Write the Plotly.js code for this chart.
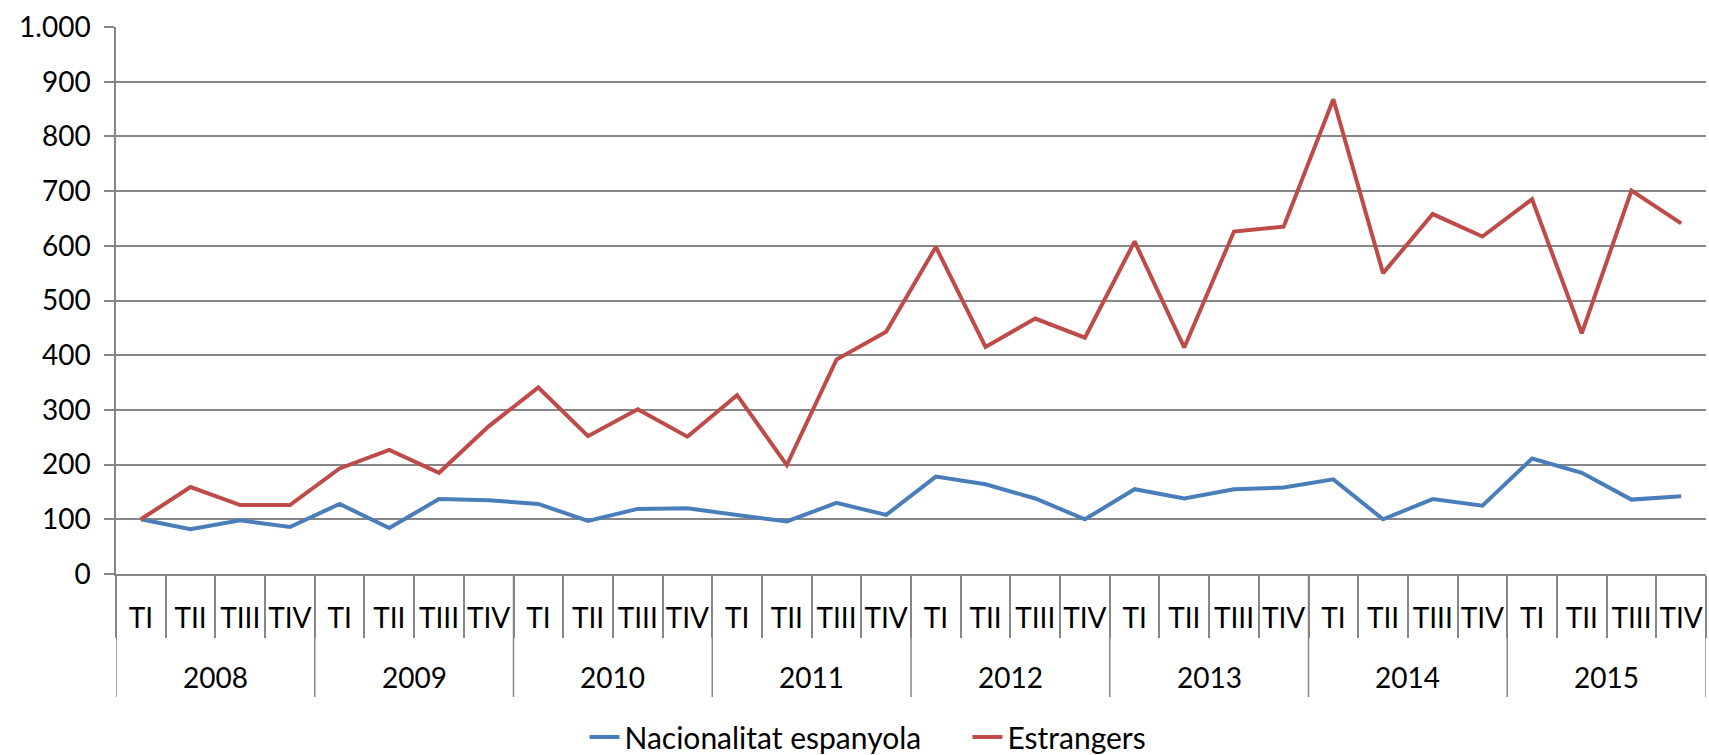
<!DOCTYPE html>
<html>
<head>
<meta charset="utf-8">
<script src="https://cdn.plot.ly/plotly-3.0.1.min.js"></script>
<style>html,body{margin:0;padding:0;background:#fff;}#chart{width:1709px;height:755px;}</style>
</head>
<body>
<div id="chart"></div>
<script>
const years = ['2008','2009','2010','2011','2012','2013','2014','2015'];
const quarters = ['TI','TII','TIII','TIV'];
const nacionalitatEspanyola = [100,82,98,86, 128,84,137,135, 128,97,119,120, 108,96,130,108, 178,164,138,100, 155,138,155,158, 173,100,137,125, 211,185,136,142];
const estrangers = [100,159,126,126, 193,227,185,270, 341,252,301,251, 327,199,392,443, 598,415,467,432, 608,414,626,635, 868,550,658,617, 685,440,701,641];
const seriesNames = ['Nacionalitat espanyola','Estrangers'];

// category positions built from the categories
const nQ = quarters.length;
const xIndex = [], xQuarterText = [];
years.forEach((y, i) => quarters.forEach((q, j) => { xIndex.push(i * nQ + j); xQuarterText.push(q); }));
const boundaries = [];
for (let k = 0; k <= xIndex.length; k++) boundaries.push(k - 0.5);

const family = 'Lato, "Open Sans", sans-serif';
const axisFont = {family: family, size: 28, color: '#000'};
const legendFont = {family: family, size: 30, color: '#000'};
const gray = '#868686';

const plotH = 755 - 27 - 181;

const traces = [
  {x: xIndex, y: nacionalitatEspanyola, name: seriesNames[0], type: 'scatter', mode: 'lines',
   line: {color: '#4A7EBB', width: 4}},
  {x: xIndex, y: estrangers, name: seriesNames[1], type: 'scatter', mode: 'lines',
   line: {color: '#BE4B48', width: 4}}
];

const yearAnnotations = years.map((y, i) => ({
  text: y, x: i * nQ + (nQ - 1) / 2, xref: 'x', y: -103 / plotH, yref: 'paper',
  xanchor: 'center', yanchor: 'middle', showarrow: false, font: axisFont
}));
const yearDividers = years.concat(['end']).map((y, i) => ({
  type: 'line', xref: 'x', yref: 'paper', x0: i * nQ - 0.5, x1: i * nQ - 0.5,
  y0: 0, y1: -123 / plotH, line: {color: gray, width: 1.5}
}));

const layout = {
  width: 1709, height: 755,
  margin: {l: 116, r: 3, t: 27, b: 181},
  paper_bgcolor: '#fff', plot_bgcolor: '#fff',
  separators: ',.',
  font: axisFont,
  showlegend: true,
  legend: {orientation: 'h', xref: 'container', yref: 'container', x: 0.342, xanchor: 'left', y: 0.024, yanchor: 'middle',
           font: legendFont, traceorder: 'normal', entrywidth: 338, entrywidthmode: 'pixels'},
  xaxis: {
    type: 'linear',
    range: [-0.5, xIndex.length - 0.5], automargin: false,
    tickmode: 'array', tickvals: xIndex, ticktext: xQuarterText,
    showline: true, linecolor: gray, linewidth: 1.5,
    showgrid: false, zeroline: false,
    ticks: '', tickangle: 0,
    minor: {tickmode: 'array', tickvals: boundaries, ticks: 'outside', ticklen: 62, tickcolor: gray, tickwidth: 1.5, showgrid: false},
    ticklabelstandoff: 19,
    tickfont: axisFont
  },
  yaxis: {
    range: [0, 1000], dtick: 100, tick0: 0, tickformat: ',d', automargin: false,
    showline: true, linecolor: gray, linewidth: 1.5,
    showgrid: true, gridcolor: gray, gridwidth: 1.5,
    zeroline: false,
    ticks: 'outside', ticklen: 10, tickcolor: gray, tickwidth: 1.5,
    ticklabelstandoff: 8,
    tickfont: axisFont
  },
  annotations: yearAnnotations,
  shapes: yearDividers
};

Plotly.newPlot('chart', traces, layout, {displayModeBar: false, responsive: false});
</script>
</body>
</html>
